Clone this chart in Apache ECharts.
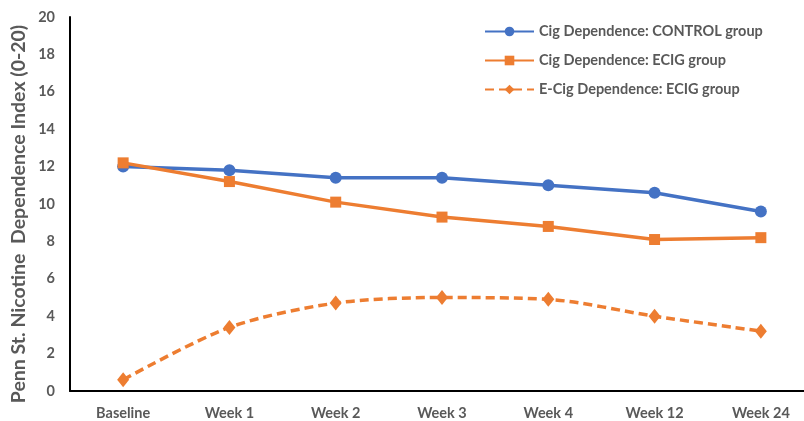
<!DOCTYPE html>
<html><head><meta charset="utf-8">
<script src="https://cdn.jsdelivr.net/npm/echarts@6/dist/echarts.min.js"></script>
<style>html,body{margin:0;padding:0;background:#fff;overflow:hidden}#wrap{width:804px;height:421px;overflow:hidden;position:relative}#c{width:814px;height:421px;position:absolute;left:0;top:0}</style>
</head><body><div id="wrap"><div id="c"></div></div>
<script>
var categories = ['Baseline','Week 1','Week 2','Week 3','Week 4','Week 12','Week 24'];
var cigControl = [12.0, 11.8, 11.4, 11.4, 11.0, 10.6, 9.6];
var cigEcig = [12.2, 11.2, 10.1, 9.3, 8.8, 8.1, 8.2];
var ecigEcig = [0.6, 3.4, 4.7, 5.0, 4.9, 4.0, 3.2];
var yTicks = {min: 0, max: 20, interval: 2};
var yTitle = 'Penn St. Nicotine  Dependence Index (0-20)';
var seriesNames = ['Cig Dependence: CONTROL group','Cig Dependence: ECIG group','E-Cig Dependence: ECIG group'];

var FONT = 'Lato';
var GREY = '#595959';
var BLUE = '#4472C4', ORANGE = '#ED7D31';
var chart = echarts.init(document.getElementById('c'), null, {renderer:'canvas'});
chart.setOption({
  animation: false,
  textStyle: {fontFamily: FONT},
  grid: {left: 70, top: 17, right: 0, height: 378, containLabel: false},
  graphic: [{
    type: 'text', x: 19, y: 214, rotation: Math.PI / 2,
    style: {text: yTitle, fontFamily: FONT, fontWeight: 'bold', fontSize: 19.5, fill: GREY,
            align: 'center', verticalAlign: 'middle'}
  }],
  legend: {
    orient: 'vertical', left: 479, top: 19, itemWidth: 49, itemHeight: 12, itemGap: 14,
    textStyle: {fontFamily: FONT, fontWeight: 'bold', fontSize: 14.5, color: GREY},
    data: seriesNames
  },
  xAxis: {
    type: 'category', data: categories, boundaryGap: true,
    axisLine: {lineStyle: {color: '#000', width: 2}},
    axisTick: {show: false},
    axisLabel: {fontFamily: FONT, fontWeight: 'bold', fontSize: 14.5, color: GREY, margin: 15}
  },
  yAxis: {
    type: 'value', min: yTicks.min, max: yTicks.max, interval: yTicks.interval,
    axisLine: {show: true, lineStyle: {color: '#000', width: 2}},
    axisTick: {show: false},
    splitLine: {show: false},
    axisLabel: {fontFamily: FONT, fontWeight: 'bold', fontSize: 14.5, color: GREY, margin: 15}
  },
  series: [
    {name: seriesNames[0], type: 'line', data: cigControl, symbol: 'circle', symbolSize: 12,
     lineStyle: {color: BLUE, width: 3.5}, itemStyle: {color: BLUE}, z: 3},
    {name: seriesNames[1], type: 'line', data: cigEcig, symbol: 'rect', symbolSize: 11,
     lineStyle: {color: ORANGE, width: 3.5}, itemStyle: {color: ORANGE}, z: 4},
    {name: seriesNames[2], type: 'line', data: ecigEcig, symbol: 'diamond', symbolSize: [12, 15], smooth: 0.3,
     lineStyle: {color: ORANGE, width: 3.5, type: [9, 5]}, itemStyle: {color: ORANGE}, z: 2}
  ]
});
</script></body></html>
